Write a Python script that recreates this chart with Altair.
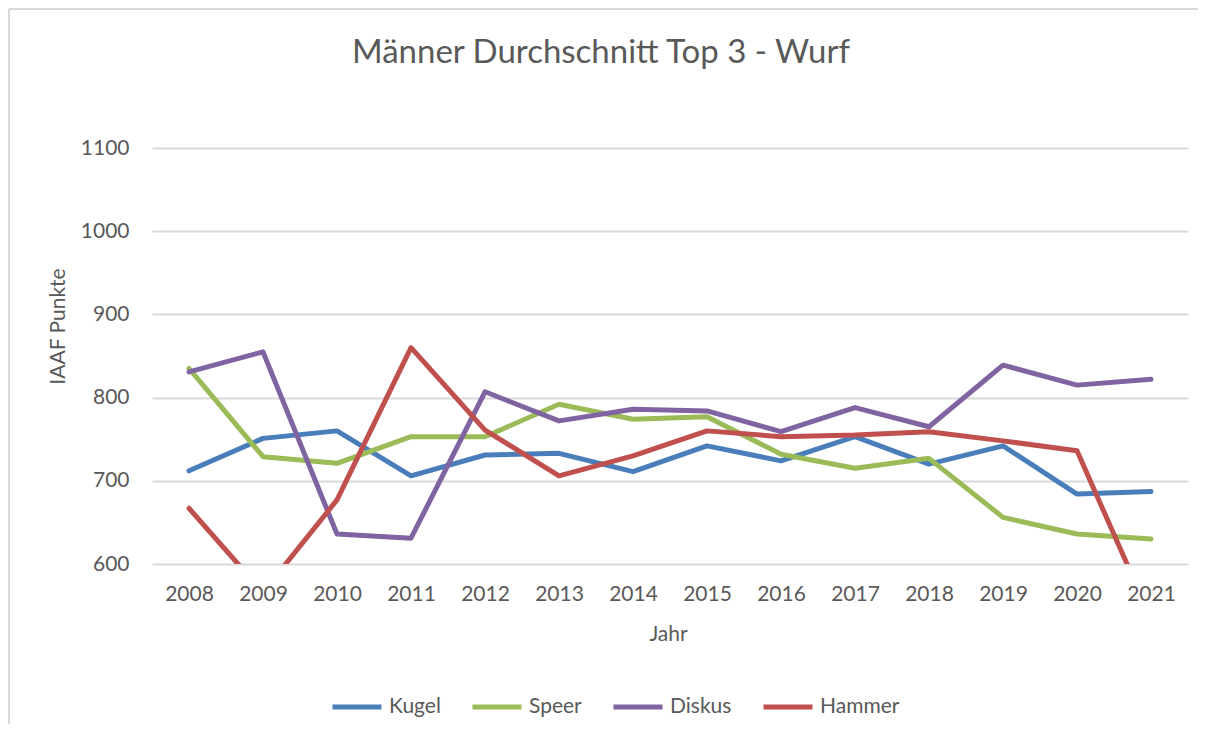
import altair as alt
import pandas as pd

years = [str(y) for y in range(2008, 2022)]
kugel = [712, 751, 760, 706, 731, 733, 711, 742, 724, 753, 720, 742, 684, 687]
speer = [835, 729, 721, 753, 753, 792, 774, 777, 732, 715, 727, 656, 636, 630]
diskus = [831, 855, 636, 631, 807, 772, 786, 784, 759, 788, 765, 839, 815, 822]
hammer = [667, 566, 677, 860, 761, 706, 730, 760, 753, 755, 759, 748, 736, 535]
series = ["Kugel", "Speer", "Diskus", "Hammer"]
colors = ["#4A7EBB", "#9BBB59", "#8064A2", "#C0504D"]
y_ticks = [600, 700, 800, 900, 1000, 1100]

rows = []
for name, vals in zip(series, [kugel, speer, diskus, hammer]):
    for yr, v in zip(years, vals):
        rows.append({"Jahr": yr, "Punkte": v, "Disziplin": name, "order": series.index(name)})
df = pd.DataFrame(rows)

FONT = "Lato"
GREY = "#595959"

lines = alt.Chart(df).mark_line(
    strokeWidth=5, strokeCap="round", strokeJoin="round", clip=True
).encode(
    x=alt.X("Jahr:O", sort=years, scale=alt.Scale(padding=0.5),
            axis=alt.Axis(title="Jahr", labelAngle=0, domain=False, ticks=False,
                          labelPadding=19, grid=False,
                          titleX=516, titleY=70, titleBaseline="middle", titleAlign="center")),
    y=alt.Y("Punkte:Q", scale=alt.Scale(domain=[600, 1100], nice=False, zero=False),
            axis=alt.Axis(title="IAAF Punkte", values=y_ticks, format="d", domain=False,
                          ticks=False, labelPadding=23, grid=True,
                          titleX=-94, titleY=178, titleAngle=270,
                          titleAlign="center", titleBaseline="middle")),
    color=alt.Color("Disziplin:N", scale=alt.Scale(domain=series, range=colors),
                    legend=alt.Legend(title=None, orient="none", legendX=178, legendY=532,
                                      direction="horizontal", columns=4,
                                      symbolType="stroke", symbolSize=2401,
                                      symbolStrokeWidth=5, labelOffset=5,
                                      columnPadding=21)),
    detail="Disziplin:N",
    order="order:Q",
)

border_df = pd.DataFrame({"k": [0]})
top_rule = alt.Chart(border_df).mark_rule(color="#d9d9d9", strokeWidth=2).encode(
    x=alt.value(-143), x2=alt.value(1050), y=alt.value(-139)
)
left_rule = alt.Chart(border_df).mark_rule(color="#d9d9d9", strokeWidth=2).encode(
    x=alt.value(-143), y=alt.value(-139), y2=alt.value(580)
)

chart = alt.layer(top_rule, left_rule, lines).properties(
    width=1036,
    height=416,
    autosize=alt.AutoSizeParams(type="none"),
    padding={"left": 144, "top": 140, "right": 10, "bottom": 160},
    title=alt.TitleParams("Männer Durchschnitt Top 3 - Wurf", fontSize=33, font=FONT,
                          fontWeight="normal", color=GREY, anchor="middle",
                          dx=-69, baseline="alphabetic", offset=-88),
).configure_view(stroke=None).configure_axis(
    labelFont=FONT, labelFontSize=21, labelColor=GREY,
    titleFont=FONT, titleFontSize=21, titleColor=GREY, titleFontWeight="normal",
    gridColor="#d9d9d9", gridWidth=2,
).configure_legend(
    labelFont=FONT, labelFontSize=21, labelColor=GREY,
)

chart.save("out.html", embed_options={"renderer": "svg", "actions": False})
